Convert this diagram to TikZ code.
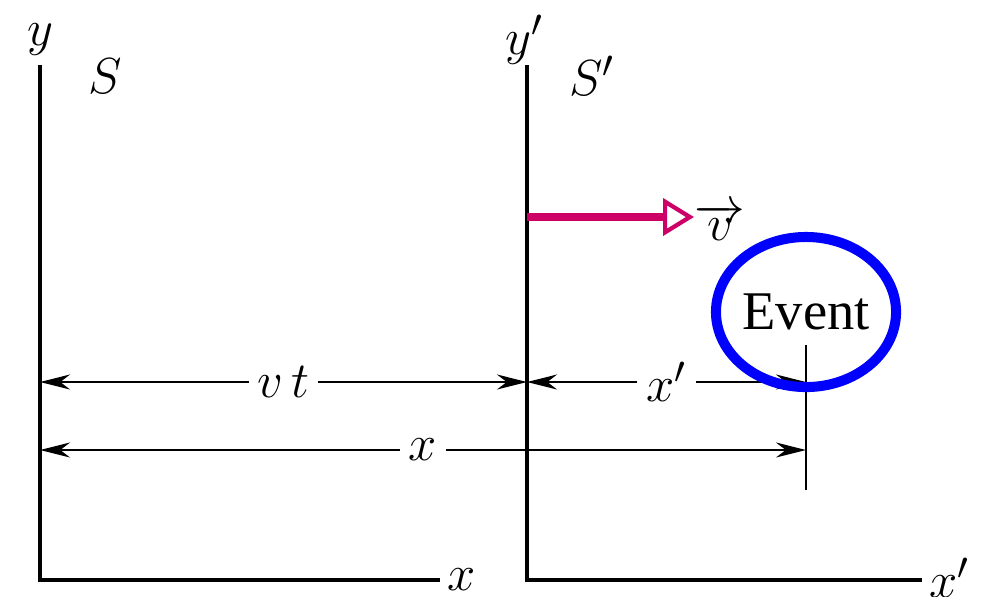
\documentclass[tikz,border=0pt]{standalone}
\usepackage{fontspec}
\setmainfont{Liberation Serif}
\usetikzlibrary{arrows.meta}
\definecolor{velcolor}{RGB}{204,0,102}
\definecolor{marca}{RGB}{0,0,255}

\begin{document}
\begin{tikzpicture}[
    x=0.01cm, y=-0.01cm,
    eje/.style   = {line width=0.9pt},
    cota/.style  = {line width=0.65pt,
                    {Stealth[length=0.3cm,width=0.15cm]}-{Stealth[length=0.3cm,width=0.15cm]}},
    etiq/.style  = {font=\fontsize{15.5}{18}\selectfont, inner sep=1pt},
    hueco/.style = {etiq, fill=white, inner xsep=2.5pt, inner ysep=1pt},
  ]
  \useasboundingbox (0,0) rectangle (986,596);
  % Sistema S
  \coordinate (Sy) at (40,65);
  \coordinate (So) at (40,580);
  \coordinate (Sx) at (440,580);
  \draw[eje] (Sy) -- (So) -- (Sx);
  \node[etiq] (ly) at (40,40) {$y$};
  \node[etiq] (lx) at (462,580) {$x$};
  \node[etiq] (lS) at (105,76) {$S$};
  % Sistema S'
  \coordinate (Py) at (527,65);
  \coordinate (Po) at (527,580);
  \coordinate (Px) at (922,580);
  \draw[eje] (Py) -- (Po) -- (Px);
  \node[etiq] (lyp) at (525,40) {$y'$};
  \node[etiq] (lxp) at (950,578) {$x'$};
  \node[etiq] (lSp) at (592,76) {$S'$};
  % Velocidad
  \coordinate (v0) at (527,217);
  \coordinate (v1) at (694,217);
  \draw[velcolor, line width=2.4pt,
        -{Triangle[open, length=0.31cm, width=0.37cm, line width=1.2pt]}] (v0) -- (v1);
  \node[etiq] (lv) at (720,222) {$\overrightarrow{v}$};
  % Evento
  \coordinate (t0) at (806,345);
  \coordinate (t1) at (806,490);
  \draw[eje, line width=0.65pt] (t0) -- (t1);
  \coordinate (a1) at (40,382);
  \coordinate (a2) at (527,382);
  \coordinate (a3) at (806,382);
  \coordinate (b1) at (40,450);
  \coordinate (b2) at (806,450);
  \draw[cota] (a1) -- node[hueco] (lvt) {$v\,t$} (a2);
  \draw[cota] (a2) -- node[hueco] (lxd) {$x'$} (a3);
  \draw[cota] (b1) -- node[hueco] (lxx) {$x$} (b2);
  \node[etiq] (ev) at (806,312) {Event};
  \draw[marca, line width=2.85pt] (ev.center) ellipse [x radius=0.9cm, y radius=0.75cm];
\end{tikzpicture}
\end{document}
